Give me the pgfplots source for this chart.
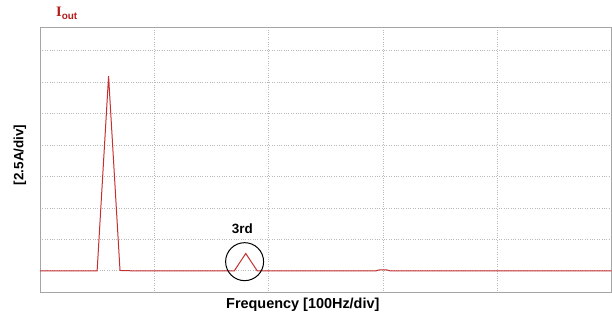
\documentclass[border=0pt]{standalone}
\usepackage{pgfplots}
\pgfplotsset{compat=1.18}
\usepackage{fontspec}
\setmainfont{Liberation Sans}
\newfontfamily\serifI{Liberation Serif}
\definecolor{trace}{RGB}{196,48,48}
\definecolor{titlered}{RGB}{180,28,28}
\definecolor{boxgray}{RGB}{165,165,165}
\definecolor{gridgray}{RGB}{185,185,185}
\begin{document}
\begin{tikzpicture}
\begin{axis}[
  scale only axis,
  width=572bp, height=266bp,
  xmin=0, xmax=500, ymin=-0.7, ymax=7.75,
  xtick={100,200,300,400}, ytick={0,1,2,3,4,5,6,7},
  xticklabels={}, yticklabels={},
  major tick length=0pt,
  grid=major,
  major grid style={gridgray, dotted, line width=0.6pt},
  axis line style={boxgray, line width=0.8pt},
  clip=true,
]
\addplot[trace, line width=1pt] coordinates {
 (0,0) (50,0) (60,6.19) (70,0.01) (80,0) (170,0) (180,0.55) (190,0) (294,0) (297,0.03) (303,0.03) (306,0) (500,0)
};
\node[circle, draw=black, line width=1pt, minimum size=38bp, inner sep=0pt] at (axis cs:179,0.29) {};
\node[font=\bfseries\fontsize{13.5}{15}\selectfont] at (axis cs:177,1.33) {3rd};
\end{axis}
\node[font=\bfseries\fontsize{14.5}{16}\selectfont] at (263bp,-12bp) {Frequency [100Hz/div]};
\node[font=\bfseries\fontsize{13.5}{15}\selectfont, rotate=90] at (-20bp,138bp) {[2.5A/div]};
\node[text=titlered, anchor=base west, inner sep=0pt] at (16bp,276bp) {{\serifI\bfseries\fontsize{14.5}{16}\selectfont I}\raisebox{-3bp}{\bfseries\fontsize{10}{11}\selectfont out}};
\useasboundingbox (-40bp,-29bp) rectangle (572bp,293bp);
\end{tikzpicture}
\end{document}
